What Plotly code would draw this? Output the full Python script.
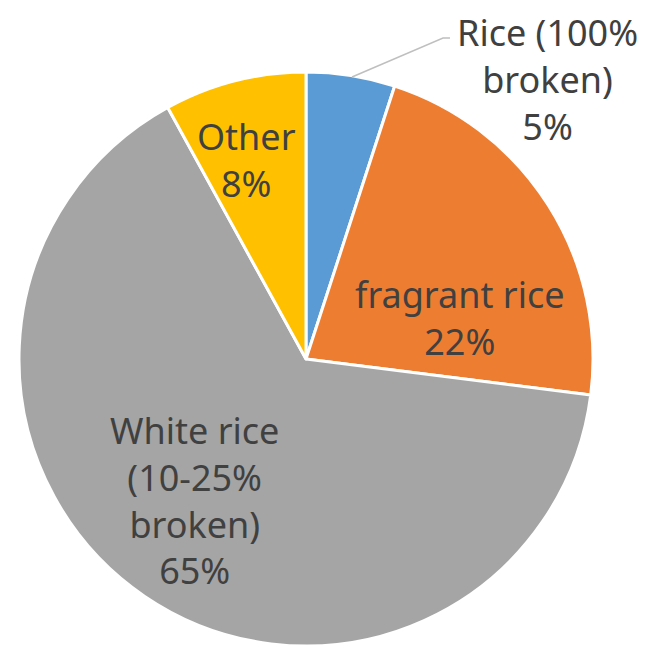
import plotly.graph_objects as go

labels = ["Rice (100%<br>broken)", "fragrant rice", "White rice<br>(10-25%<br>broken)", "Other"]
values = [5, 22, 65, 8]
colors = ["#5B9BD5", "#ED7D31", "#A5A5A5", "#FFC000"]

FONT = "Noto Sans"
TXT = "#404040"
FS = 36

fig = go.Figure(go.Pie(
    labels=labels,
    values=values,
    sort=False,
    direction="clockwise",
    rotation=0,
    marker=dict(colors=colors, line=dict(color="white", width=3)),
    textinfo="none",
    hoverinfo="label+percent",
    showlegend=False,
    domain=dict(x=[19/646, 593/646], y=[0, 574/646]),
))

total = sum(values)
def lab(i):
    return f"{labels[i]}<br>{round(100*values[i]/total)}%"

# label anchor positions in pixels (x, y from top)
pos = [(547, 80), (460, 318), (194, 500), (247, 160)]
ann = []
for i, (px, py) in enumerate(pos):
    ann.append(dict(
        x=px/646, y=1-py/646, xref="paper", yref="paper",
        text=lab(i), showarrow=False, xanchor="center", yanchor="middle",
        align="center", font=dict(family=FONT, size=FS, color=TXT),
    ))

fig.update_layout(
    width=646, height=646,
    margin=dict(l=0, r=0, t=0, b=0),
    paper_bgcolor="white", plot_bgcolor="white",
    annotations=ann,
    shapes=[dict(
        type="path", xref="paper", yref="paper",
        path=f"M {352/646} {1-77/646} L {443/646} {1-38/646} L {450/646} {1-38/646}",
        line=dict(color="#BFBFBF", width=1.5),
    )],
)

fig.write_html("out.html")
